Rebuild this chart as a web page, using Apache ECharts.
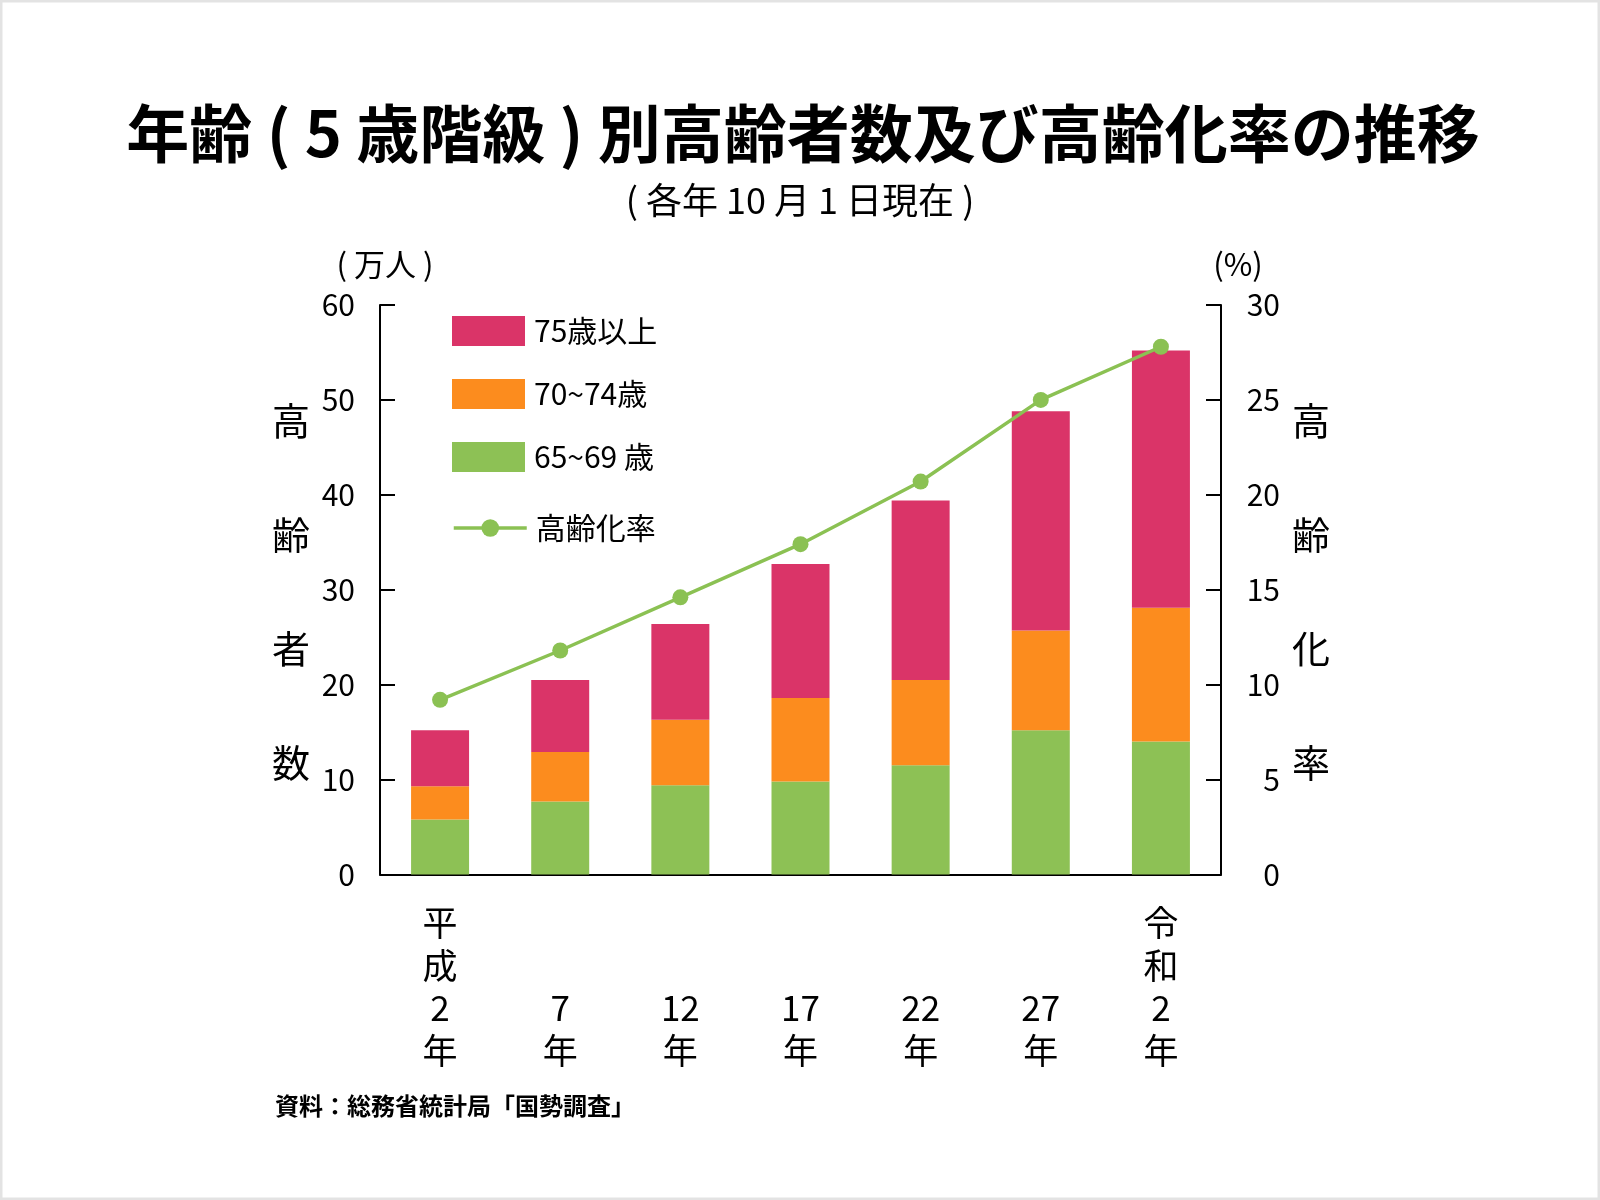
<!DOCTYPE html>
<html>
<head>
<meta charset="utf-8">
<script src="https://cdn.jsdelivr.net/npm/echarts@6/dist/echarts.min.js"></script>
<style>
html,body{margin:0;padding:0;background:#fff;}
#chart{width:1600px;height:1200px;}
</style>
</head>
<body>
<div id="chart"></div>
<script>
// ---- data ----
const categories = ['平成2年', '7年', '12年', '17年', '22年', '27年', '令和2年'];
const age65to69 = [5.8, 7.7, 9.4, 9.8, 11.5, 15.2, 14.0];
const age70to74 = [3.5, 5.2, 6.9, 8.8, 9.0, 10.5, 14.1];
const age75plus = [5.9, 7.6, 10.1, 14.1, 18.9, 23.1, 27.1];
const agingRate = [9.2, 11.8, 14.6, 17.4, 20.7, 25.0, 27.8];
const seriesNames = ['75歳以上', '70~74歳', '65~69 歳', '高齢化率'];
const leftTicks = { min: 0, max: 60, interval: 10 };
const rightTicks = { min: 0, max: 30, interval: 5 };

const FONT = '"Noto Sans CJK JP", "Noto Sans", sans-serif';
const C_PINK = '#DA3468';
const C_ORANGE = '#FC8C1E';
const C_GREEN = '#8DC155';
const C_LINE = '#8BC153';

function xLabel(v) {
  const toks = v.match(/[0-9]+|[^0-9]/g);
  while (toks.length < 4) toks.unshift('');
  return toks.join('\n');
}

function txt(text, x, y, size, opts) {
  opts = opts || {};
  return {
    type: 'text',
    x: x, y: y,
    style: {
      text: text,
      fontSize: size,
      fontFamily: FONT,
      fontWeight: opts.weight || 'normal',
      fill: '#000',
      align: opts.align || 'center',
      verticalAlign: 'middle',
      textAlign: opts.align || 'center',
      textVerticalAlign: 'middle',
      lineHeight: opts.lineHeight || undefined
    }
  };
}

const chart = echarts.init(document.getElementById('chart'), null, { renderer: 'canvas' });
chart.setOption({
  backgroundColor: '#fff',
  animation: false,
  textStyle: { fontFamily: FONT },
  grid: { left: 380, right: 379, top: 305, bottom: 325.5, containLabel: false },
  legend: [
    {
      data: [seriesNames[0], seriesNames[1], seriesNames[2]],
      orient: 'vertical',
      left: 452, top: 316,
      padding: 0,
      icon: 'rect',
      itemWidth: 73, itemHeight: 30, itemGap: 33,
      textStyle: { fontSize: 30, color: '#000', fontFamily: FONT, padding: [0, 0, 0, 4] },
      selectedMode: false
    },
    {
      data: [seriesNames[3]],
      orient: 'vertical',
      left: 452, top: 513,
      padding: 0,
      itemWidth: 73, itemHeight: 22,
      lineStyle: { width: 3.5, color: C_LINE },
      itemStyle: { color: C_LINE },
      textStyle: { fontSize: 30, color: '#000', fontFamily: FONT, padding: [0, 0, 0, 4] },
      selectedMode: false
    }
  ],
  xAxis: {
    type: 'category',
    data: categories,
    boundaryGap: true,
    axisLine: { lineStyle: { color: '#000', width: 2 } },
    axisTick: { show: false },
    axisLabel: {
      formatter: xLabel,
      fontSize: 35, lineHeight: 42.5, color: '#000', margin: 27,
      fontFamily: FONT, interval: 0
    },
    splitLine: { show: false }
  },
  yAxis: [
    {
      type: 'value',
      min: leftTicks.min, max: leftTicks.max, interval: leftTicks.interval,
      position: 'left',
      axisLine: { show: true, lineStyle: { color: '#000', width: 2 } },
      axisTick: { show: true, inside: true, length: 15, lineStyle: { color: '#000', width: 2 } },
      axisLabel: { fontSize: 30, color: '#000', margin: 25, fontFamily: FONT },
      splitLine: { show: false }
    },
    {
      type: 'value',
      min: rightTicks.min, max: rightTicks.max, interval: rightTicks.interval,
      position: 'right',
      axisLine: { show: true, lineStyle: { color: '#000', width: 2 } },
      axisTick: { show: true, inside: true, length: 15, lineStyle: { color: '#000', width: 2 } },
      axisLabel: { fontSize: 30, color: '#000', margin: 59, align: 'right', fontFamily: FONT },
      splitLine: { show: false }
    }
  ],
  series: [
    { name: seriesNames[2], type: 'bar', stack: 'pop', data: age65to69, barWidth: 58, itemStyle: { color: C_GREEN } },
    { name: seriesNames[1], type: 'bar', stack: 'pop', data: age70to74, barWidth: 58, itemStyle: { color: C_ORANGE } },
    { name: seriesNames[0], type: 'bar', stack: 'pop', data: age75plus, barWidth: 58, itemStyle: { color: C_PINK } },
    {
      name: seriesNames[3], type: 'line', yAxisIndex: 1, data: agingRate,
      symbol: 'circle', symbolSize: 16, z: 5,
      lineStyle: { color: C_LINE, width: 3.5 },
      itemStyle: { color: C_LINE }
    }
  ],
  graphic: [
    { type: 'rect', shape: { x: 1, y: 1, width: 1598, height: 1198 }, style: { fill: null, stroke: '#e3e3e3', lineWidth: 3 }, silent: true },
    txt('年齢 ( 5 歳階級 ) 別高齢者数及び高齢化率の推移', 803, 133, 63, { weight: 'bold' }),
    txt('( 各年 10 月 1 日現在 )', 800, 200, 36),
    txt('( 万人 )', 385, 264, 31),
    txt('(%)', 1238, 264, 31),
    txt('高\n齢\n者\n数', 291, 592, 38, { lineHeight: 114 }),
    txt('高\n齢\n化\n率', 1311, 592, 38, { lineHeight: 114 }),
    txt('資料：総務省統計局「国勢調査」', 275, 1106, 24, { align: 'left', weight: 'bold' })
  ]
});
</script>
</body>
</html>
